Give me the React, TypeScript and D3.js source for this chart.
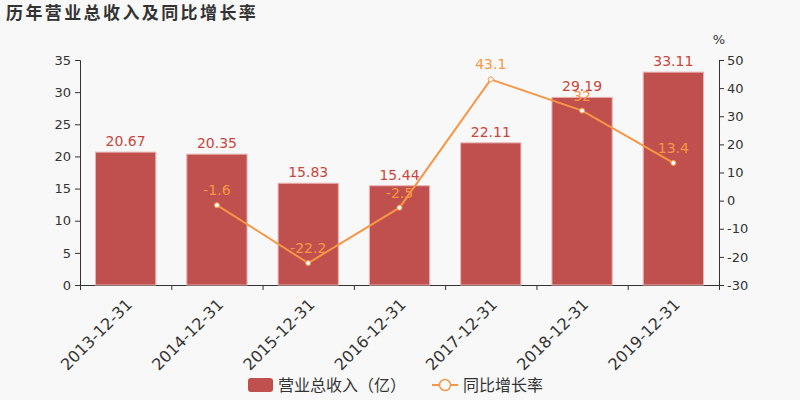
// @ts-nocheck
import React from 'react'
import * as d3 from 'd3'

const categories = ['2013-12-31', '2014-12-31', '2015-12-31', '2016-12-31', '2017-12-31', '2018-12-31', '2019-12-31']
const revenue = [20.67, 20.35, 15.83, 15.44, 22.11, 29.19, 33.11]
const growth = [null, -1.6, -22.2, -2.5, 43.1, 32, 13.4]
const leftTicks = [0, 5, 10, 15, 20, 25, 30, 35]
const rightTicks = [-30, -20, -10, 0, 10, 20, 30, 40, 50]

const W = 800
const H = 400
const margin = { top: 60, right: 81, bottom: 115, left: 80 }
const font = '"DejaVu Sans", "Noto Sans CJK SC", sans-serif'

const App = () => {
  const svgRef = React.useRef(null)

  React.useEffect(() => {
    document.body.style.margin = '0'
    const svg = d3.select(svgRef.current)
    svg.selectAll('*').remove()

    const x = d3.scaleBand().domain(categories).range([margin.left, W - margin.right]).paddingInner(0.34).paddingOuter(0.17)
    const yL = d3.scaleLinear().domain([0, 35]).range([H - margin.bottom, margin.top])
    const yR = d3.scaleLinear().domain([-30, 50]).range([H - margin.bottom, margin.top])

    svg.append('rect').attr('width', W).attr('height', H).attr('fill', '#f8f8f8')

    svg.append('text').attr('x', 6).attr('y', 19).text('历年营业总收入及同比增长率')
      .attr('font-family', '"Noto Sans CJK SC", sans-serif').attr('font-weight', 'bold')
      .attr('font-size', 17).attr('fill', '#333').attr('letter-spacing', 2.4)

    // left axis
    const gl = svg.append('g').attr('transform', `translate(${margin.left},0)`)
      .call(d3.axisLeft(yL).tickValues(leftTicks).tickSize(5).tickPadding(4).tickFormat((v) => String(v)))
    // right axis
    const gr = svg.append('g').attr('transform', `translate(${W - margin.right},0)`)
      .call(d3.axisRight(yR).tickValues(rightTicks).tickSize(5).tickPadding(3).tickFormat((v) => String(v)))
    // x axis
    const xTickScale = d3.scaleLinear().domain([0, categories.length]).range([margin.left, W - margin.right])
    const gx = svg.append('g').attr('transform', `translate(0,${H - margin.bottom})`)
      .call(d3.axisBottom(xTickScale).tickValues(d3.range(0, categories.length + 1)).tickSize(5).tickFormat(() => ''))
    ;[gl, gr, gx].forEach((g) => {
      g.select('.domain').attr('stroke', '#333')
      g.selectAll('line').attr('stroke', '#333')
      g.selectAll('text').attr('font-family', font).attr('font-size', 13).attr('fill', '#333')
    })

    svg.append('text').attr('x', W - margin.right).attr('y', 44).attr('text-anchor', 'middle')
      .text('%').attr('font-family', font).attr('font-size', 13).attr('fill', '#333')

    svg.append('g').selectAll('text').data(categories).enter().append('text')
      .attr('transform', (d) => `translate(${x(d) + x.bandwidth() / 2 - 1},${H - margin.bottom + 12}) rotate(-45)`)
      .attr('text-anchor', 'end').attr('dy', '0.75em')
      .text((d) => d).attr('font-family', font).attr('font-size', 16).attr('fill', '#333')

    // bars
    svg.append('g').selectAll('rect').data(categories).enter().append('rect')
      .attr('x', (d) => x(d)).attr('width', x.bandwidth())
      .attr('y', (d, i) => yL(revenue[i])).attr('height', (d, i) => yL(0) - yL(revenue[i]))
      .attr('fill', '#c0504d').attr('stroke', '#eab3b2').attr('stroke-width', 1)

    svg.append('g').selectAll('text').data(categories).enter().append('text')
      .attr('x', (d) => x(d) + x.bandwidth() / 2).attr('y', (d, i) => yL(revenue[i]) - 6)
      .attr('text-anchor', 'middle').text((d, i) => revenue[i].toFixed(2))
      .attr('font-family', font).attr('font-size', 14).attr('fill', '#c9463d')

    // line
    const pts = categories.map((c, i) => ({ c, v: growth[i] })).filter((p) => p.v !== null)
    const line = d3.line().x((p) => x(p.c) + x.bandwidth() / 2).y((p) => yR(p.v))
    svg.append('path').datum(pts).attr('d', line).attr('fill', 'none')
      .attr('stroke', '#f79646').attr('stroke-width', 2)
    svg.append('g').selectAll('circle').data(pts).enter().append('circle')
      .attr('cx', (p) => x(p.c) + x.bandwidth() / 2).attr('cy', (p) => yR(p.v)).attr('r', 2.5)
      .attr('fill', '#fff').attr('stroke', '#f79646').attr('stroke-width', 1)
    svg.append('g').selectAll('text').data(pts).enter().append('text')
      .attr('x', (p) => x(p.c) + x.bandwidth() / 2).attr('y', (p) => yR(p.v) - 10)
      .attr('text-anchor', 'middle').text((p) => String(p.v))
      .attr('font-family', font).attr('font-size', 14).attr('fill', '#f79646')

    // legend
    const lg = svg.append('g').attr('font-family', '"Noto Sans CJK SC", sans-serif').attr('font-size', 16).attr('fill', '#333')
    lg.append('rect').attr('x', 248).attr('y', 378).attr('width', 25).attr('height', 14).attr('rx', 3).attr('fill', '#c0504d')
    lg.append('text').attr('x', 278).attr('y', 391).text('营业总收入（亿）')
    lg.append('line').attr('x1', 432).attr('x2', 458).attr('y1', 385).attr('y2', 385).attr('stroke', '#f79646').attr('stroke-width', 2)
    lg.append('circle').attr('cx', 445).attr('cy', 385).attr('r', 5.5).attr('fill', '#fff').attr('stroke', '#f79646').attr('stroke-width', 1.5)
    lg.append('text').attr('x', 463).attr('y', 391).text('同比增长率')
  }, [])

  return <svg ref={svgRef} width={W} height={H} style={{ display: 'block' }} />
}

export default App
